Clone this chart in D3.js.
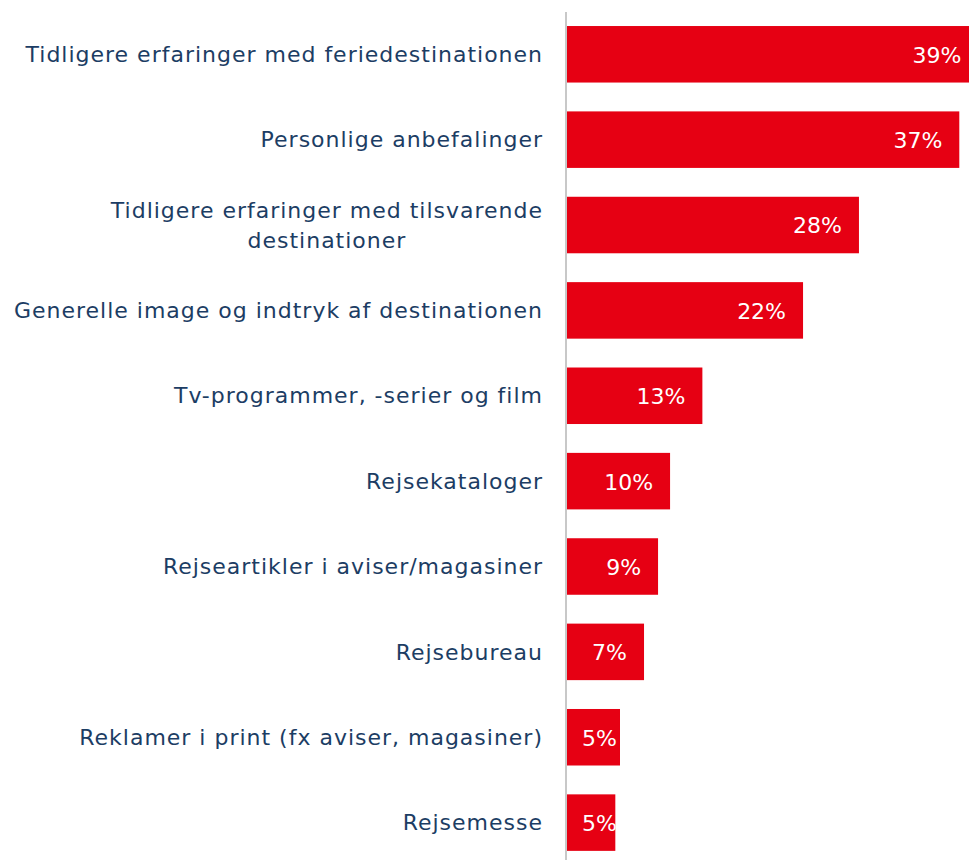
<!DOCTYPE html>
<html>
<head>
<meta charset="utf-8">
<script src="https://cdn.jsdelivr.net/npm/d3@7"></script>
<style>
  html, body { margin: 0; padding: 0; background: #ffffff; }
  svg { display: block; }
</style>
</head>
<body>
<svg id="chart" width="969" height="860"></svg>
<script>
// ---- data ----
const categories = [
  ["Tidligere erfaringer med feriedestinationen"],
  ["Personlige anbefalinger"],
  ["Tidligere erfaringer med tilsvarende", "destinationer"],
  ["Generelle image og indtryk af destinationen"],
  ["Tv-programmer, -serier og film"],
  ["Rejsekataloger"],
  ["Rejseartikler i aviser/magasiner"],
  ["Rejsebureau"],
  ["Reklamer i print (fx aviser, magasiner)"],
  ["Rejsemesse"]
];
const values = [38.8, 37.0, 27.56, 22.3, 12.83, 9.79, 8.66, 7.34, 5.08, 4.64];

// ---- layout ----
const W = 969, H = 860;
const axisX = 566;
const fontFam = "'DejaVu Sans', sans-serif";
const fs = 22;
const svg = d3.select("#chart");

const idx = d3.range(categories.length);
const y = d3.scaleBand()
  .domain(idx)
  .range([11.6, 865.3])
  .paddingInner(0.338)
  .paddingOuter(0.169);

const x = d3.scaleLinear()
  .domain([0, 37])
  .range([axisX, 959.3]);

// letter-spacing so the longest label spans the reference width
const probeStr = "Generelle image og indtryk af destinationen";
const probe = svg.append("text").attr("font-family", fontFam).attr("font-size", fs).text(probeStr);
const pw = probe.node().getComputedTextLength();
probe.remove();
const ls = Math.max(0, (529 - pw) / probeStr.length);

// bars
svg.append("g").selectAll("rect")
  .data(values)
  .join("rect")
  .attr("x", x(0))
  .attr("y", (d, i) => y(i))
  .attr("width", d => x(d) - x(0))
  .attr("height", y.bandwidth())
  .attr("fill", "#e60013");

// axis line
svg.append("line")
  .attr("x1", axisX).attr("x2", axisX)
  .attr("y1", 12).attr("y2", H)
  .attr("stroke", "#c8c8c8").attr("stroke-width", 2);

// category labels
const labelG = svg.append("g")
  .attr("font-family", fontFam)
  .attr("font-size", fs)
  .attr("letter-spacing", ls)
  .attr("fill", "#1c3d64");
categories.forEach((lines, i) => {
  const cy = y(i) + y.bandwidth() / 2;
  const lh = 30;
  const t = labelG.append("text").attr("text-anchor", "middle");
  lines.forEach((ln, j) => {
    t.append("tspan")
      .attr("x", 0)
      .attr("y", cy + (j - (lines.length - 1) / 2) * lh)
      .attr("dy", "0.35em")
      .text(ln);
  });
  const bb = t.node().getBBox();
  t.attr("transform", `translate(${542 + ls - (bb.x + bb.width)},0)`);
});

// value labels
const fmt = d => d3.format(".0f")(d) + "%";
const valG = svg.append("g")
  .attr("font-family", fontFam)
  .attr("font-size", fs)
  .attr("fill", "#ffffff");
values.forEach((v, i) => {
  const t = valG.append("text")
    .attr("text-anchor", "end")
    .attr("y", y(i) + y.bandwidth() / 2 + 0.7)
    .attr("dy", "0.35em")
    .text(fmt(v));
  const tw = t.node().getComputedTextLength();
  t.attr("x", Math.max(x(v) - 17, axisX + 16 + tw));
});
</script>
</body>
</html>
